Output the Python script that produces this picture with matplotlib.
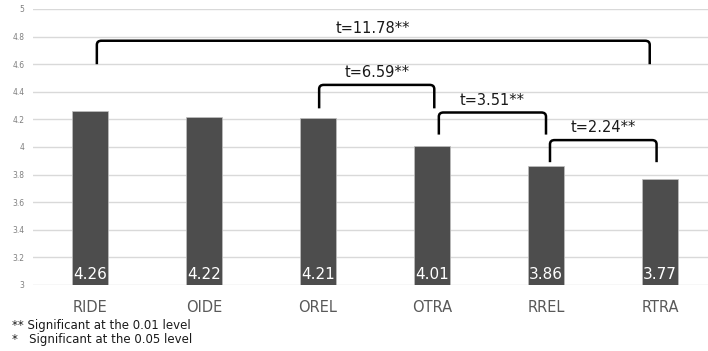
import matplotlib
matplotlib.use("Agg")
import matplotlib.pyplot as plt
from matplotlib.path import Path
from matplotlib.patches import PathPatch

categories = ["RIDE", "OIDE", "OREL", "OTRA", "RREL", "RTRA"]
means = [4.26, 4.22, 4.21, 4.01, 3.86, 3.77]
yticks = [3, 3.2, 3.4, 3.6, 3.8, 4, 4.2, 4.4, 4.6, 4.8, 5]
ytick_labels = ["3", "3.2", "3.4", "3.6", "3.8", "4", "4.2", "4.4", "4.6", "4.8", "5"]

# comparison brackets: (left x, right x, leg bottom, bar top, label, label y)
bracket_left = [0.06, 2.01, 3.06, 4.035]
bracket_right = [4.91, 3.02, 4.0, 4.97]
bracket_bottom = [4.60, 4.28, 4.09, 3.89]
bracket_top = [4.77, 4.45, 4.25, 4.05]
t_labels = ["t=11.78**", "t=6.59**", "t=3.51**", "t=2.24**"]
label_y = [4.86, 4.54, 4.34, 4.14]

footnotes = ["** Significant at the 0.01 level", "*   Significant at the 0.05 level"]

fig = plt.figure(figsize=(7.08, 3.51), dpi=100)
ax = fig.add_axes([33 / 708, 66 / 351, 684 / 708, 276 / 351])

x = list(range(len(categories)))
ax.bar(x, means, width=0.31, color="#4d4d4d", edgecolor="#bfbfbf", linewidth=0.5, zorder=3)
for xi, v in zip(x, means):
    ax.text(xi, 3.02, f"{v:.2f}", ha="center", va="bottom", color="white",
            fontsize=11, zorder=4)

ax.set_xlim(-0.5, 5.5)
ax.set_ylim(3, 5)
ax.set_yticks(yticks)
ax.set_yticklabels(ytick_labels)
ax.yaxis.grid(True, color="#d9d9d9", linewidth=1, zorder=0)
ax.set_axisbelow(True)
for s in ax.spines.values():
    s.set_visible(False)
ax.tick_params(axis="y", length=0, labelsize=5.5, labelcolor="#7f7f7f", pad=6)
ax.tick_params(axis="x", length=0, labelsize=10.5, labelcolor="#595959", pad=11)
ax.set_xticks(x)
ax.set_xticklabels(categories)

rx, ry = 0.04, 0.03
for l, r, b, t, lab, ly in zip(bracket_left, bracket_right, bracket_bottom,
                                bracket_top, t_labels, label_y):
    verts = [(l, b), (l, t - ry), (l, t), (l + rx, t), (r - rx, t), (r, t), (r, t - ry), (r, b)]
    codes = [Path.MOVETO, Path.LINETO, Path.CURVE3, Path.CURVE3, Path.LINETO,
             Path.CURVE3, Path.CURVE3, Path.LINETO]
    ax.add_patch(PathPatch(Path(verts, codes), fill=False, edgecolor="black",
                           linewidth=1.8, zorder=5, clip_on=False))
    ax.text((l + r) / 2, ly, lab, ha="center", va="center", fontsize=10.5,
            color="#1a1a1a", zorder=5)

fig.text(12 / 708, 1 - 325 / 351, footnotes[0], fontsize=8.5, color="#1a1a1a", va="center")
fig.text(12 / 708, 1 - 339 / 351, footnotes[1], fontsize=8.5, color="#1a1a1a", va="center")

fig.savefig("out.png", dpi=100, facecolor="white")
